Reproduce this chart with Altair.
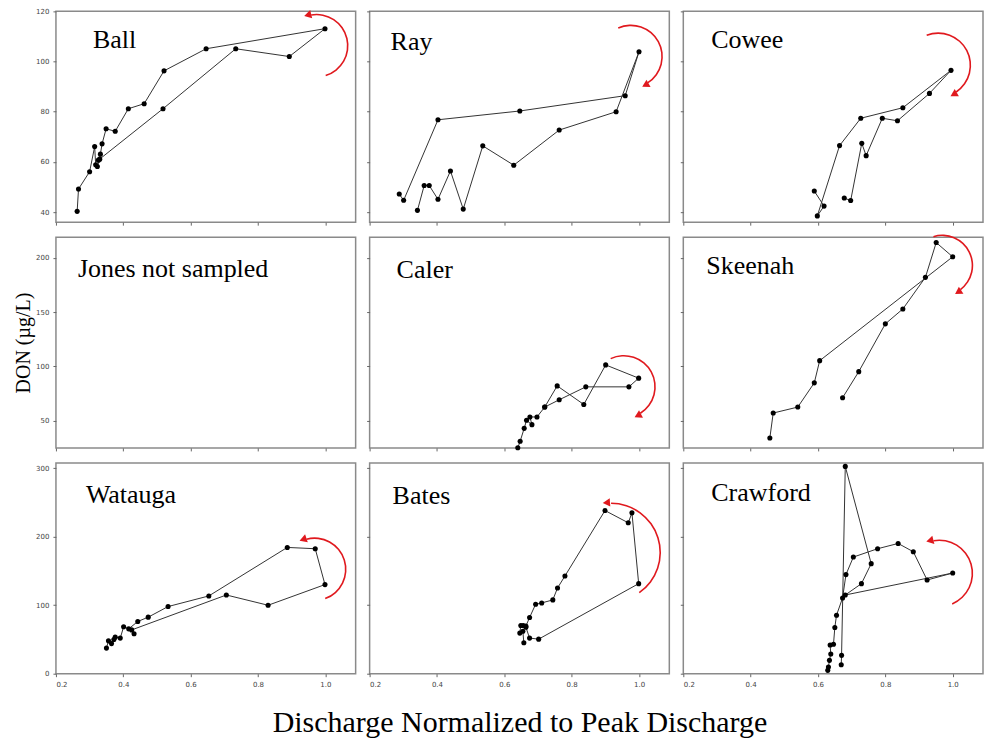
import math
import altair as alt
import pandas as pd

# ---------------- data ----------------
ball_x = [0.263, 0.267, 0.300, 0.315, 0.318, 0.323, 0.330, 0.332, 0.337, 0.349, 0.376, 0.415, 0.462, 0.521,
          0.646, 0.999, 0.893, 0.734, 0.518, 0.326]
ball_y = [40.3, 49.2, 56.1, 66.1, 58.9, 58.2, 61.1, 63.1, 67.2, 73.2, 72.2, 81.2, 83.2, 96.3,
          105.1, 113.1, 102.0, 105.1, 81.2, 60.7]

ray_x = [0.288, 0.301, 0.403, 0.646, 0.959, 1.000, 0.932, 0.763, 0.628, 0.536, 0.478, 0.440, 0.403, 0.377, 0.362, 0.342]
ray_y = [47.2, 44.7, 76.8, 80.3, 86.4, 103.9, 80.0, 72.7, 58.7, 66.4, 41.2, 56.4, 45.1, 50.6, 50.6, 40.7]

cowee_x = [0.589, 0.618, 0.598, 0.664, 0.727, 0.852, 0.995, 0.931, 0.836, 0.791, 0.743, 0.730, 0.697, 0.678]
cowee_y = [48.4, 42.4, 38.5, 66.5, 77.4, 81.6, 96.5, 87.3, 76.4, 77.4, 62.5, 67.4, 44.6, 45.6]

jones_x = []
jones_y = []

caler_x = [0.640, 0.647, 0.659, 0.666, 0.682, 0.676, 0.697, 0.720, 0.757, 0.836, 0.901, 0.999, 0.970, 0.842, 0.763, 0.720]
caler_y = [25.1, 31.1, 43.0, 50.4, 46.4, 53.5, 53.5, 62.6, 82.1, 65.0, 101.4, 89.2, 81.2, 81.2, 69.3, 62.6]

skeenah_x = [0.457, 0.467, 0.540, 0.589, 0.605, 1.000, 0.951, 0.919, 0.852, 0.800, 0.721, 0.673]
skeenah_y = [34.2, 57.1, 62.6, 84.9, 105.3, 200.9, 214.0, 182.0, 152.9, 139.2, 95.2, 71.2]

watauga_x = [0.350, 0.356, 0.365, 0.372, 0.376, 0.391, 0.401, 0.416, 0.443, 0.474, 0.533, 0.654,
             0.887, 0.970, 0.999, 0.830, 0.706, 0.425, 0.432]
watauga_y = [37.4, 48.0, 44.0, 50.0, 53.4, 52.0, 68.5, 65.5, 76.3, 82.6, 98.1, 113.6,
             184.5, 182.6, 130.2, 100.0, 115.0, 64.0, 58.3]

bates_x = [0.658, 0.655, 0.646, 0.649, 0.656, 0.664, 0.675, 0.693, 0.711, 0.744, 0.758, 0.780,
           0.899, 0.968, 0.979, 0.999, 0.702, 0.675, 0.664]
bates_y = [45.2, 62.0, 59.3, 70.5, 70.5, 69.5, 82.1, 101.5, 103.4, 107.8, 125.2, 142.7,
           238.4, 220.5, 235.0, 131.6, 50.5, 52.0, 68.0]

crawford_x = [0.629, 0.631, 0.634, 0.638, 0.636, 0.646, 0.650, 0.655, 0.673, 0.683, 0.705, 0.777,
              0.838, 0.883, 0.924, 1.000, 0.681, 0.729, 0.758, 0.681, 0.670, 0.669]
crawford_y = [4.9, 9.8, 19.5, 28.7, 42.0, 43.0, 67.6, 85.5, 110.7, 144.8, 170.4, 182.6,
              190.3, 178.2, 136.9, 147.1, 115.0, 131.6, 160.8, 302.9, 26.8, 13.1]

x_ticks = [0.2, 0.4, 0.6, 0.8, 1.0]
row_y_domains = [[36, 120], [25, 219], [0, 308]]
row_y_ticks = [[40, 60, 80, 100, 120], [50, 100, 150, 200], [0, 50, 100, 150, 200, 250, 300]]

# hysteresis arrows: centre (data units), radius px, arc start/end (deg clockwise from 12 o'clock), head end
arrows = {
    "Ball":     (0.974, 106.3, 32, 350, 523, "start"),
    "Ray":      (0.976, 102.0, 32, 336, 507, "end"),
    "Cowee":    (0.957, 98.5, 33, 339, 506, "end"),
    "Caler":    (0.955, 81.2, 32, 335, 508, "end"),
    "Skeenah":  (0.969, 192.9, 31, 343, 503, "end"),
    "Watauga":  (0.968, 152.5, 32, 345, 520, "start"),
    "Bates":    (0.917, 177.2, 50, 0, 145, "start"),
    "Crawford": (0.960, 146.6, 34, 350, 517, "start"),
}

panels = [
    ("Ball", "Ball", ball_x, ball_y, (37, 29)),
    ("Ray", "Ray", ray_x, ray_y, (21, 31)),
    ("Cowee", "Cowee", cowee_x, cowee_y, (28, 29)),
    ("Jones", "Jones not sampled", jones_x, jones_y, (22, 32)),
    ("Caler", "Caler", caler_x, caler_y, (27, 33)),
    ("Skeenah", "Skeenah", skeenah_x, skeenah_y, (23, 29)),
    ("Watauga", "Watauga", watauga_x, watauga_y, (30, 32)),
    ("Bates", "Bates", bates_x, bates_y, (23, 33)),
    ("Crawford", "Crawford", crawford_x, crawford_y, (28, 30)),
]

W, H = 300, 211
RED = "#e0191e"
SERIF = "Liberation Serif"


def make_panel(idx, key, label, xs, ys, lpos):
    row, col = divmod(idx, 3)
    df = pd.DataFrame({"x": xs, "y": ys, "i": list(range(len(xs)))})
    if len(xs) == 0:
        df = pd.DataFrame({"x": pd.Series([], dtype=float), "y": pd.Series([], dtype=float),
                           "i": pd.Series([], dtype=int)})

    x_axis = alt.Axis(values=x_ticks, format=".1f", labels=(row == 2), title=None)
    if key == "Bates":
        x_axis = alt.Axis(values=x_ticks, format=".1f", labels=True,
                          title="Discharge Normalized to Peak Discharge",
                          titleFont=SERIF, titleFontSize=30, titleFontWeight="normal",
                          titleColor="black", titlePadding=20)
    y_axis = alt.Axis(values=row_y_ticks[row], format="d", labels=(col == 0), title=None)
    if key == "Jones":
        y_axis = alt.Axis(values=row_y_ticks[row], format="d", labels=True,
                          title="DON (µg/L)", titleFont=SERIF, titleFontSize=20,
                          titleFontWeight="normal", titleColor="black", titlePadding=2)

    xenc = alt.X("x:Q", scale=alt.Scale(domain=[0.2, 1.09], nice=False, zero=False), axis=x_axis)
    yenc = alt.Y("y:Q", scale=alt.Scale(domain=row_y_domains[row], nice=False, zero=False), axis=y_axis)

    base = alt.Chart(df).encode(x=xenc, y=yenc, order="i:Q")
    layers = [
        base.mark_line(color="#333333", strokeWidth=1),
        base.mark_circle(color="black", size=26, opacity=1),
    ]

    lab = alt.Chart(pd.DataFrame({"t": [label]})).mark_text(
        align="left", baseline="middle", font=SERIF, fontSize=26, color="black"
    ).encode(text="t:N", x=alt.value(lpos[0]), y=alt.value(lpos[1]))
    layers.append(lab)

    if key in arrows:
        cx, cy, r, t1, t2, head = arrows[key]
        one = pd.DataFrame({"k": [0]})
        arc = alt.Chart(one).mark_arc(
            radius=r, radius2=r - 1.6, theta=math.radians(t1), theta2=math.radians(t2), color=RED
        ).encode(x=alt.datum(cx), y=alt.datum(cy))
        if head == "start":
            ang = t1 - 4
            heading = (ang - 90) % 360
        else:
            ang = t2 + 4
            heading = (ang + 90) % 360
        a = math.radians(ang)
        hx, hy = r * math.sin(a), -r * math.cos(a)
        tri = alt.Chart(one).mark_point(
            shape="triangle", filled=True, size=70, color=RED, opacity=1,
            angle=heading, xOffset=hx, yOffset=hy
        ).encode(x=alt.datum(cx), y=alt.datum(cy))
        layers += [arc, tri]

    return alt.layer(*layers).properties(width=W, height=H)


charts = [make_panel(i, *p) for i, p in enumerate(panels)]

chart = alt.concat(
    *charts, columns=3, bounds="flush",
    spacing=alt.RowColnumber(row=15, column=14)
).properties(
    padding={"left": 12, "top": 6, "right": 0, "bottom": 0}
).configure_view(
    stroke="#8a8a8a", strokeWidth=1.5
).configure_axis(
    domain=False, grid=False, tickColor="#666666", tickSize=3, tickWidth=1,
    labelFont="DejaVu Sans", labelFontSize=7, labelColor="#444444", labelPadding=4
)

chart.save("out.html", embed_options={"renderer": "svg", "actions": False})
